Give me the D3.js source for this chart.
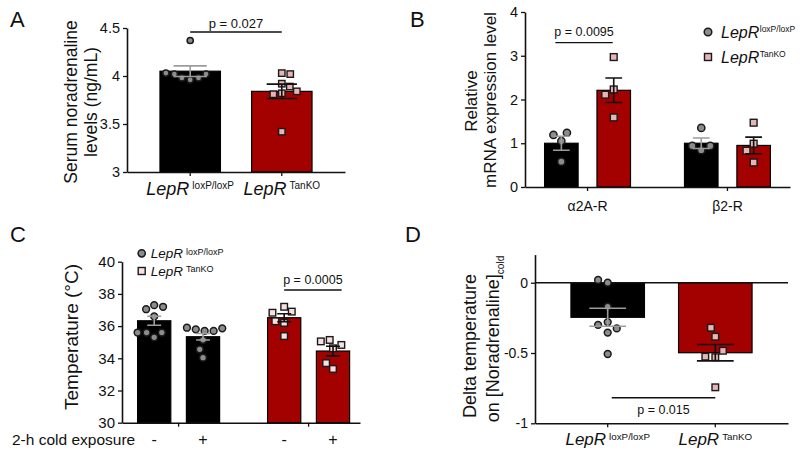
<!DOCTYPE html>
<html><head><meta charset="utf-8">
<script src="https://cdn.jsdelivr.net/npm/d3@7"></script>
<style>body{margin:0;background:#fff}</style>
</head><body>
<script>
// ---------------- DATA ----------------
// Panel A: serum noradrenaline (ng/mL)
const groupsA = ["loxP/loxP", "TanKO"];
const meanA = [4.05, 3.84];
const semA = [0.055, 0.075];
const wtA = [3.96, 4.37, 3.98, 3.98, 4.02, 4.02, 4.03];
const koA = [3.92, 3.42, 3.82, 3.81, 3.89, 3.84, 4.03, 4.02];
const ticksA = [3, 3.5, 4, 4.5];
const pA = { text: "p = 0.027", level: 4.458 };

// Panel B: relative mRNA expression
const genesB = ["α2A-R", "β2-R"];
const meanBwt = [1.0, 1.0];
const meanBko = [2.21, 0.95];
const semBwt = [0.16, 0.12];
const semBko = [0.28, 0.19];
const ptsBwt = [[1.05, 0.58, 1.19, 1.24], [0.84, 1.35, 0.94, 0.94]];
const ptsBko = [[2.23, 2.11, 2.97, 1.59], [0.99, 1.47, 0.56, 0.83]];
const ticksB = [0, 1, 2, 3, 4];
const pB = { text: "p = 0.0095", level: 3.3 };

// Panel C: temperature (°C), cold exposure - / +
const genoC = ["loxP/loxP", "TanKO"];
const coldC = ["-", "+"];
const meanC = [[36.33, 35.34], [36.52, 34.45]];
const semC = [[0.28, 0.2], [0.25, 0.3]];
const ptsC = [
  [[36.6, 35.3, 37.3, 37.05, 37.2, 35.6, 35.6, 35.6], [35.15, 34.04, 34.56, 35.7, 35.8, 35.7, 35.9, 35.86]],
  [[36.2, 35.38, 37.2, 36.3, 36.9, 36.83], [34.62, 33.34, 33.7, 34.83, 35.14, 35.05]]
];
const ticksC = [30, 32, 34, 36, 38, 40];
const pC = { text: "p = 0.0005", level: 38.24 };

// Panel D: delta temperature on [Noradrenaline]cold
const groupsD = ["loxP/loxP", "TanKO"];
const meanD = [-0.246, -0.498];
const semD = [0.064, 0.058];
const wtD = [-0.17, -0.28, -0.355, -0.507, 0.0, 0.02, -0.325, -0.30];
const koD = [-0.53, -0.744, -0.526, -0.484, -0.384, -0.32];
const ticksD = [-1, -0.5, 0];
const pD = { text: "p = 0.015", level: -0.818 };

// ---------------- STYLE ----------------
const FONT = '"Liberation Sans", Arial, Helvetica, sans-serif';
const RED = "#a30000", PINK = "#e8b5b5", PINK_C = "#f7e0e0";
const GREYPT = "#8c8c8c", ERRGREY = "#9c9c9c", INK = "#111";

const svg = d3.select("body").append("svg")
  .attr("width", 800).attr("height", 462)
  .style("font-family", FONT);

function swarm(vals, y, D) {
  const placed = [];
  let side = -1;
  return vals.map(v => {
    const py = y(v);
    const forb = [];
    placed.forEach(p => {
      const dy = Math.abs(p.y - py);
      if (dy < D) { const w = Math.sqrt(D * D - dy * dy); forb.push([p.x - w, p.x + w]); }
    });
    const cands = [0];
    forb.forEach(f => cands.push(f[0], f[1]));
    const ok = c => forb.every(f => c <= f[0] + 1e-6 || c >= f[1] - 1e-6);
    const valid = cands.filter(ok);
    valid.sort((a, b) => {
      const d = Math.round(Math.abs(a) * 100) - Math.round(Math.abs(b) * 100);
      if (d !== 0) return d;
      return (b * side) - (a * side);
    });
    const x = valid[0];
    if (Math.abs(x) > 0.01) side = -side;
    placed.push({ x, y: py });
    return x;
  });
}

function drawPoints(g, vals, cx, y, D, shape, fill, size) {
  const xs = swarm(vals, y, D);
  vals.forEach((v, i) => {
    if (shape === "circle") {
      g.append("circle").attr("cx", cx + xs[i]).attr("cy", y(v)).attr("r", size)
        .attr("fill", fill).attr("stroke", "#1a1a1a").attr("stroke-width", 1.5);
    } else {
      g.append("rect").attr("x", cx + xs[i] - size).attr("y", y(v) - size)
        .attr("width", size * 2).attr("height", size * 2)
        .attr("fill", fill).attr("stroke", "#1a1a1a").attr("stroke-width", 1.4);
    }
  });
}

function errBar(g, cx, y, m, s, capW, color) {
  g.append("path")
    .attr("d", `M${cx},${y(m + s)}V${y(m - s)}M${cx - capW / 2},${y(m + s)}h${capW}M${cx - capW / 2},${y(m - s)}h${capW}`)
    .attr("stroke", color).attr("stroke-width", 1.6).attr("fill", "none");
}

function yAxis(g, y, x0, ticks, fs) {
  const ax = d3.axisLeft(y).tickValues(ticks).tickFormat(d => String(d)).tickSize(4).tickPadding(3).tickSizeOuter(0);
  const a = g.append("g").attr("transform", `translate(${x0},0)`).call(ax);
  a.select(".domain").attr("stroke", INK).attr("stroke-width", 1.6);
  a.selectAll(".tick line").attr("stroke", INK).attr("stroke-width", 1.3);
  a.selectAll("text").attr("font-size", fs).attr("font-family", FONT).attr("fill", INK);
  return a;
}

function xAxis(g, x, y0, labels, fs) {
  const ax = d3.axisBottom(x).tickSize(4).tickPadding(5).tickSizeOuter(0)
    .tickFormat(labels ? (d, i) => labels[i] : "");
  const a = g.append("g").attr("transform", `translate(0,${y0})`).call(ax);
  a.select(".domain").attr("stroke", INK).attr("stroke-width", 1.6);
  a.selectAll(".tick line").attr("stroke", INK).attr("stroke-width", 1.3);
  a.selectAll("text").attr("font-size", fs).attr("font-family", FONT).attr("fill", INK);
  return a;
}

function lepr(g, x, y, sup, fs, sfs, anchor, gap) {
  const t = g.append("text").attr("x", x).attr("y", y).attr("text-anchor", anchor).attr("fill", INK);
  t.append("tspan").attr("font-style", "italic").attr("font-size", fs).text("LepR");
  t.append("tspan").attr("font-size", sfs).attr("dx", gap).attr("dy", -0.716 * (fs - sfs)).text(sup);
}

function yTitle(g, x, y, txt, fs, sub) {
  const t = g.append("text").attr("transform", `translate(${x},${y}) rotate(-90)`)
    .attr("text-anchor", "middle").attr("font-size", fs).attr("fill", INK);
  t.append("tspan").text(txt);
  if (sub) t.append("tspan").attr("font-size", fs * 0.56).attr("dy", fs * 0.3).text(sub);
}

function pLine(g, x1, x2, yy, txt, ty, fs) {
  g.append("line").attr("x1", x1).attr("x2", x2).attr("y1", yy).attr("y2", yy)
    .attr("stroke", INK).attr("stroke-width", 1.4);
  g.append("text").attr("x", (x1 + x2) / 2).attr("y", ty).attr("text-anchor", "middle")
    .attr("font-size", fs).attr("fill", INK).text(txt);
}

function letter(x, y, t) {
  svg.append("text").attr("x", x).attr("y", y).attr("font-size", 22).attr("fill", INK).text(t);
}
letter(10, 27, "A"); letter(410, 27, "B"); letter(10, 242, "C"); letter(405, 242, "D");

// ---------------- PANEL A ----------------
{
  const g = svg.append("g");
  const y = d3.scaleLinear().domain([3, 4.5]).range([172, 28]);
  const x = d3.scaleBand().domain(groupsA).range([127, 345]).paddingInner(0.34).paddingOuter(0.36);
  const bw = x.bandwidth();
  groupsA.forEach((gname, i) => {
    g.append("rect").attr("x", x(gname)).attr("width", bw)
      .attr("y", y(meanA[i])).attr("height", y(3) - y(meanA[i]))
      .attr("fill", i ? RED : "#000").attr("stroke", "#000").attr("stroke-width", 1.2);
  });
  const c0 = x(groupsA[0]) + bw / 2, c1 = x(groupsA[1]) + bw / 2;
  drawPoints(g, wtA, c0, y, 8.5, "circle", GREYPT, 3.1);
  drawPoints(g, koA, c1, y, 8.5, "square", PINK, 3.2);
  errBar(g, c0, y, meanA[0], semA[0], bw * 0.55, ERRGREY);
  errBar(g, c1, y, meanA[1], semA[1], bw * 0.5, INK);
  yAxis(g, y, 127, ticksA, 14.5);
  xAxis(g, x, 172, null, 14);
  lepr(g, c0, 195, groupsA[0], 18, 10, "middle", 3);
  lepr(g, c1, 195, groupsA[1], 18, 10, "middle", 3);
  yTitle(g, 77, 102, "Serum noradrenaline", 17.5);
  yTitle(g, 97, 102, "levels (ng/mL)", 17.5);
  pLine(g, c0, c1, y(pA.level), pA.text, y(pA.level) - 4, 13);
}

// ---------------- PANEL B ----------------
{
  const g = svg.append("g");
  const y = d3.scaleLinear().domain([0, 4]).range([187, 12]);
  const x = d3.scaleBand().domain(genesB).range([525, 790]).paddingInner(0.386).paddingOuter(0.14);
  const xs = d3.scaleBand().domain(["wt", "ko"]).range([0, x.bandwidth()]).paddingInner(0.36).paddingOuter(0);
  const bw = xs.bandwidth();
  genesB.forEach((gene, i) => {
    const cw = x(gene) + xs("wt") + bw / 2, ck = x(gene) + xs("ko") + bw / 2;
    g.append("rect").attr("x", x(gene) + xs("wt")).attr("width", bw)
      .attr("y", y(meanBwt[i])).attr("height", y(0) - y(meanBwt[i]))
      .attr("fill", "#000").attr("stroke", "#000").attr("stroke-width", 1.2);
    g.append("rect").attr("x", x(gene) + xs("ko")).attr("width", bw)
      .attr("y", y(meanBko[i])).attr("height", y(0) - y(meanBko[i]))
      .attr("fill", RED).attr("stroke", "#000").attr("stroke-width", 1.2);
    drawPoints(g, ptsBwt[i], cw, y, 10, "circle", GREYPT, 3.6);
    drawPoints(g, ptsBko[i], ck, y, 10, "square", PINK, 3.4);
    errBar(g, cw, y, meanBwt[i], semBwt[i], bw * 0.5, ERRGREY);
    errBar(g, ck, y, meanBko[i], semBko[i], bw * 0.5, INK);
    if (i === 0) pLine(g, cw - 6, ck - 1, y(pB.level), pB.text, y(pB.level) - 7, 12.5);
  });
  yAxis(g, y, 525, ticksB, 14.5);
  const ax = xAxis(g, x, 187, genesB, 14);
  ax.selectAll("text").attr("dy", "1.05em");
  yTitle(g, 477, 101, "Relative", 17);
  yTitle(g, 496, 100, "mRNA expression level", 17);
  // legend
  g.append("circle").attr("cx", 708).attr("cy", 32).attr("r", 3.8)
    .attr("fill", GREYPT).attr("stroke", "#1a1a1a").attr("stroke-width", 1.5);
  g.append("rect").attr("x", 708 - 3.5).attr("y", 57 - 3.5).attr("width", 7).attr("height", 7)
    .attr("fill", PINK).attr("stroke", "#1a1a1a").attr("stroke-width", 1.4);
  lepr(g, 721, 37.5, groupsA[0], 16, 8.5, "start", 0.5);
  lepr(g, 721, 62.5, groupsA[1], 16, 8.5, "start", 0.5);
}

// ---------------- PANEL C ----------------
{
  const g = svg.append("g");
  const y = d3.scaleLinear().domain([30, 40]).range([422.7, 261.7]);
  const x = d3.scaleBand().domain(genoC).range([122, 360]).paddingInner(0.369).paddingOuter(0.1).align(0.6);
  const xs = d3.scaleBand().domain(coldC).range([0, x.bandwidth()]).paddingInner(0.32).paddingOuter(0);
  const bw = xs.bandwidth();
  const centers = [];
  genoC.forEach((geno, i) => {
    coldC.forEach((cd, j) => {
      const cx = x(geno) + xs(cd) + bw / 2;
      centers.push(cx);
      g.append("rect").attr("x", x(geno) + xs(cd)).attr("width", bw)
        .attr("y", y(meanC[i][j])).attr("height", y(30) - y(meanC[i][j]))
        .attr("fill", i ? RED : "#000").attr("stroke", "#000").attr("stroke-width", 1.2);
      if (i === 0) drawPoints(g, ptsC[i][j], cx, y, 9, "circle", GREYPT, 3.4);
      else drawPoints(g, ptsC[i][j], cx, y, 9, "square", PINK_C, 3.3);
      errBar(g, cx, y, meanC[i][j], semC[i][j], bw * 0.42, i ? INK : ERRGREY);
      g.append("text").attr("x", cx).attr("y", 445).attr("text-anchor", "middle")
        .attr("font-size", 16).attr("fill", INK).text(cd);
    });
  });
  yAxis(g, y, 122, ticksC, 15);
  xAxis(g, x, 422.7, null, 14);
  g.append("text").attr("x", 12).attr("y", 445).attr("font-size", 15.5).attr("fill", INK).text("2-h cold exposure");
  yTitle(g, 78, 337, "Temperature (°C)", 19);
  pLine(g, centers[2], centers[3] + bw * 0.26, y(pC.level), pC.text, y(pC.level) - 6, 12.5);
  // legend
  g.append("circle").attr("cx", 141.7).attr("cy", 253.3).attr("r", 3.6)
    .attr("fill", GREYPT).attr("stroke", "#1a1a1a").attr("stroke-width", 1.5);
  g.append("rect").attr("x", 141.7 - 3.5).attr("y", 271 - 3.5).attr("width", 7).attr("height", 7)
    .attr("fill", PINK_C).attr("stroke", "#1a1a1a").attr("stroke-width", 1.4);
  lepr(g, 150.7, 258, genoC[0], 13.5, 9, "start", 3);
  lepr(g, 150.7, 275.5, genoC[1], 13.5, 9, "start", 3);
}

// ---------------- PANEL D ----------------
{
  const g = svg.append("g");
  const y = d3.scaleLinear().domain([-1, 0.2]).range([423.3, 254.6]);
  const x = d3.scaleBand().domain(groupsD).range([535, 788]).paddingInner(0.317).paddingOuter(0.334);
  const bw = x.bandwidth();
  groupsD.forEach((gname, i) => {
    g.append("rect").attr("x", x(gname)).attr("width", bw)
      .attr("y", y(0)).attr("height", y(meanD[i]) - y(0))
      .attr("fill", i ? RED : "#000").attr("stroke", "#000").attr("stroke-width", 1.2);
  });
  const c0 = x(groupsD[0]) + bw / 2, c1 = x(groupsD[1]) + bw / 2;
  g.append("line").attr("x1", 535).attr("x2", 788).attr("y1", y(0)).attr("y2", y(0))
    .attr("stroke", INK).attr("stroke-width", 1.6);
  drawPoints(g, wtD, c0, y, 10, "circle", GREYPT, 3.4);
  drawPoints(g, koD, c1, y, 10, "square", PINK, 3.3);
  errBar(g, c0, y, meanD[0], semD[0], bw * 0.5, ERRGREY);
  errBar(g, c1, y, meanD[1], semD[1], bw * 0.5, INK);
  yAxis(g, y, 535, ticksD, 14);
  xAxis(g, x, y(-1), null, 14);
  lepr(g, c0, 445, groupsD[0], 17, 9.8, "middle", 3);
  lepr(g, c1, 445, groupsD[1], 17, 9.8, "middle", 3);
  yTitle(g, 476, 346, "Delta temperature", 18);
  yTitle(g, 499, 339, "on [Noradrenaline]", 18, "cold");
  pLine(g, c0 + 4, c1, y(pD.level), pD.text, y(pD.level) + 16, 12.5);
}
</script>
</body></html>
